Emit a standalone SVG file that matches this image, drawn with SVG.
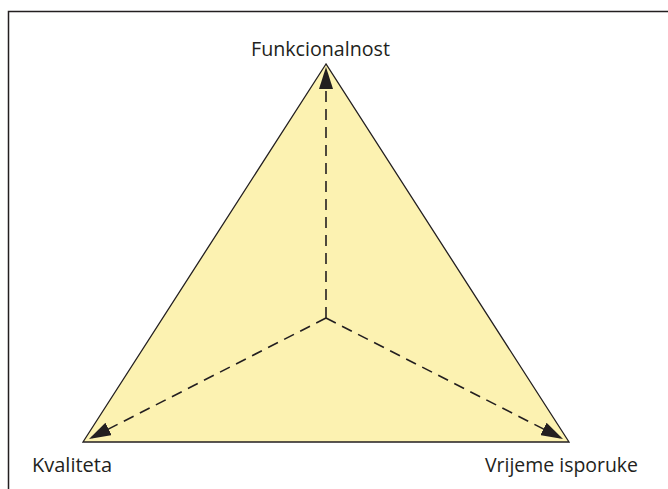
<svg xmlns="http://www.w3.org/2000/svg" width="668" height="489" viewBox="0 0 668 489">
<style>
.lbl{font-family:"Open Sans","Noto Sans",sans-serif;font-size:20px;fill:#231f20}
.dash{stroke:#231f20;stroke-width:1.6;stroke-dasharray:11 7;fill:none}
</style>
<defs>
<marker id="ah" viewBox="0 0 22 14" refX="22" refY="7" markerWidth="22" markerHeight="14" markerUnits="userSpaceOnUse" orient="auto">
<path d="M0,0 L22,7 L0,14 z" fill="#231f20"/>
</marker>
</defs>
<rect x="8.5" y="11.5" width="700" height="500" fill="#fff" stroke="#231f20" stroke-width="1.5"/>
<g id="triangle">
<polygon points="326,64 83,442 569,442" fill="#fcf2b1" stroke="#231f20" stroke-width="1.3"/>
</g>
<g id="connectors">
<line class="dash" x1="326" y1="318" x2="326" y2="67" marker-end="url(#ah)"/>
<line class="dash" x1="326" y1="318" x2="89" y2="439" marker-end="url(#ah)"/>
<line class="dash" x1="326" y1="318" x2="563" y2="439" marker-end="url(#ah)"/>
</g>
<g id="n1"><text class="lbl" x="251" y="56" textLength="139" lengthAdjust="spacingAndGlyphs">Funkcionalnost</text></g>
<g id="n2"><text class="lbl" x="32" y="472">Kvaliteta</text></g>
<g id="n3"><text class="lbl" x="485" y="472" textLength="153" lengthAdjust="spacingAndGlyphs">Vrijeme isporuke</text></g>
</svg>
